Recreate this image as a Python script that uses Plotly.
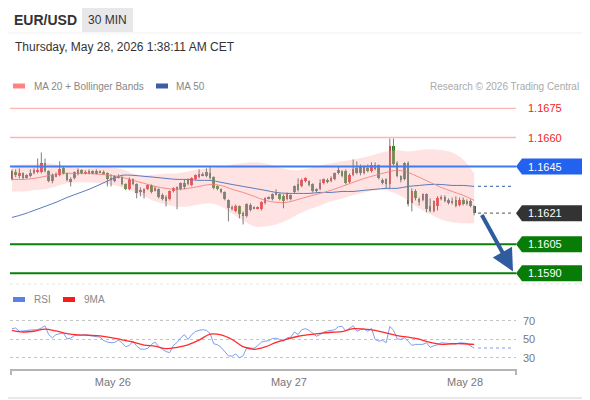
import pandas as pd
import plotly.graph_objects as go

# the page adds an 8px body margin, so the figure is 8px smaller than the window
PAGE_OFF = 8
W, H = 590 - PAGE_OFF, 400 - PAGE_OFF
ML, MR, MT, MB = 10 - PAGE_OFF, 74, 95 - PAGE_OFF, 30
FONT = "Liberation Sans, Arial, sans-serif"

# 30 minute candles, May 25 10:00 -> May 28 01:00 (centre of each bar)
candle_start = "2026-05-25 10:15"
bar_minutes = 30
study_step = 3

opens = [
    1.16384, 1.16420, 1.16405, 1.16415, 1.16395, 1.16400, 1.16415, 1.16425, 1.16420, 1.16467,
    1.16425, 1.16374, 1.16400, 1.16405, 1.16441, 1.16415, 1.16384, 1.16389, 1.16415, 1.16431,
    1.16415, 1.16415, 1.16425, 1.16415, 1.16425, 1.16420, 1.16415, 1.16384, 1.16374, 1.16400,
    1.16395, 1.16358, 1.16333, 1.16384, 1.16358, 1.16322, 1.16312, 1.16333, 1.16353, 1.16328,
    1.16333, 1.16302, 1.16291, 1.16281, 1.16322, 1.16333, 1.16333, 1.16364, 1.16379, 1.16353,
    1.16384, 1.16395, 1.16405, 1.16400, 1.16415, 1.16395, 1.16348, 1.16333, 1.16317, 1.16276,
    1.16235, 1.16219, 1.16245, 1.16209, 1.16194, 1.16224, 1.16240, 1.16235, 1.16230, 1.16261,
    1.16286, 1.16281, 1.16307, 1.16307, 1.16297, 1.16281, 1.16281, 1.16317, 1.16358, 1.16348,
    1.16374, 1.16374, 1.16358, 1.16322, 1.16333, 1.16364, 1.16379, 1.16374, 1.16384, 1.16415,
    1.16425, 1.16425, 1.16369, 1.16405, 1.16441, 1.16446, 1.16415, 1.16441, 1.16425, 1.16436,
    1.16456, 1.16379, 1.16384, 1.16358, 1.16554, 1.16467, 1.16400, 1.16384, 1.16467, 1.16261,
    1.16322, 1.16281, 1.16276, 1.16307, 1.16245, 1.16219, 1.16245, 1.16286, 1.16291, 1.16276,
    1.16266, 1.16276, 1.16250, 1.16276, 1.16255, 1.16271, 1.16245,
]
highs = [
    1.16436, 1.16436, 1.16441, 1.16420, 1.16410, 1.16436, 1.16441, 1.16492, 1.16523, 1.16492,
    1.16431, 1.16415, 1.16420, 1.16477, 1.16451, 1.16420, 1.16395, 1.16425, 1.16441, 1.16436,
    1.16431, 1.16436, 1.16431, 1.16436, 1.16431, 1.16431, 1.16420, 1.16410, 1.16405, 1.16410,
    1.16400, 1.16364, 1.16395, 1.16389, 1.16364, 1.16343, 1.16338, 1.16358, 1.16358, 1.16348,
    1.16338, 1.16312, 1.16302, 1.16328, 1.16343, 1.16348, 1.16369, 1.16384, 1.16389, 1.16395,
    1.16410, 1.16436, 1.16420, 1.16441, 1.16451, 1.16400, 1.16353, 1.16338, 1.16322, 1.16281,
    1.16250, 1.16255, 1.16250, 1.16219, 1.16261, 1.16261, 1.16245, 1.16245, 1.16271, 1.16291,
    1.16297, 1.16312, 1.16333, 1.16312, 1.16307, 1.16317, 1.16307, 1.16353, 1.16389, 1.16389,
    1.16395, 1.16379, 1.16364, 1.16338, 1.16384, 1.16389, 1.16389, 1.16400, 1.16420, 1.16451,
    1.16431, 1.16436, 1.16415, 1.16487, 1.16477, 1.16461, 1.16456, 1.16461, 1.16472, 1.16472,
    1.16461, 1.16389, 1.16389, 1.16595, 1.16595, 1.16477, 1.16405, 1.16472, 1.16477, 1.16338,
    1.16333, 1.16291, 1.16312, 1.16312, 1.16286, 1.16276, 1.16297, 1.16302, 1.16302, 1.16286,
    1.16291, 1.16297, 1.16291, 1.16291, 1.16281, 1.16281, 1.16250,
]
lows = [
    1.16379, 1.16395, 1.16389, 1.16384, 1.16389, 1.16395, 1.16410, 1.16415, 1.16415, 1.16420,
    1.16369, 1.16364, 1.16395, 1.16400, 1.16410, 1.16374, 1.16348, 1.16384, 1.16405, 1.16410,
    1.16410, 1.16410, 1.16410, 1.16410, 1.16415, 1.16410, 1.16348, 1.16348, 1.16369, 1.16389,
    1.16353, 1.16328, 1.16328, 1.16353, 1.16286, 1.16297, 1.16286, 1.16328, 1.16312, 1.16322,
    1.16286, 1.16276, 1.16245, 1.16276, 1.16317, 1.16230, 1.16328, 1.16333, 1.16353, 1.16348,
    1.16379, 1.16389, 1.16400, 1.16395, 1.16384, 1.16333, 1.16328, 1.16312, 1.16276, 1.16168,
    1.16224, 1.16214, 1.16183, 1.16152, 1.16188, 1.16219, 1.16230, 1.16230, 1.16224, 1.16255,
    1.16281, 1.16276, 1.16302, 1.16276, 1.16235, 1.16276, 1.16276, 1.16312, 1.16322, 1.16343,
    1.16369, 1.16348, 1.16317, 1.16317, 1.16328, 1.16358, 1.16364, 1.16369, 1.16379, 1.16410,
    1.16395, 1.16358, 1.16364, 1.16400, 1.16410, 1.16405, 1.16410, 1.16420, 1.16420, 1.16431,
    1.16384, 1.16358, 1.16338, 1.16338, 1.16456, 1.16395, 1.16369, 1.16379, 1.16245, 1.16219,
    1.16276, 1.16250, 1.16271, 1.16214, 1.16214, 1.16214, 1.16224, 1.16276, 1.16266, 1.16255,
    1.16255, 1.16240, 1.16245, 1.16250, 1.16250, 1.16240, 1.16199,
]
closes = [
    1.16425, 1.16405, 1.16415, 1.16389, 1.16405, 1.16415, 1.16431, 1.16431, 1.16467, 1.16425,
    1.16374, 1.16405, 1.16410, 1.16436, 1.16415, 1.16379, 1.16374, 1.16420, 1.16431, 1.16415,
    1.16420, 1.16425, 1.16415, 1.16425, 1.16420, 1.16415, 1.16384, 1.16389, 1.16400, 1.16395,
    1.16358, 1.16333, 1.16384, 1.16358, 1.16312, 1.16328, 1.16333, 1.16353, 1.16317, 1.16338,
    1.16291, 1.16281, 1.16271, 1.16322, 1.16338, 1.16343, 1.16364, 1.16343, 1.16358, 1.16389,
    1.16405, 1.16410, 1.16410, 1.16420, 1.16389, 1.16338, 1.16333, 1.16317, 1.16281, 1.16235,
    1.16240, 1.16245, 1.16204, 1.16194, 1.16255, 1.16250, 1.16235, 1.16240, 1.16266, 1.16286,
    1.16291, 1.16307, 1.16312, 1.16281, 1.16271, 1.16312, 1.16302, 1.16348, 1.16328, 1.16379,
    1.16389, 1.16353, 1.16322, 1.16333, 1.16364, 1.16384, 1.16374, 1.16389, 1.16415, 1.16431,
    1.16400, 1.16364, 1.16405, 1.16436, 1.16415, 1.16415, 1.16446, 1.16431, 1.16456, 1.16456,
    1.16389, 1.16369, 1.16358, 1.16554, 1.16461, 1.16400, 1.16379, 1.16467, 1.16255, 1.16322,
    1.16286, 1.16266, 1.16307, 1.16230, 1.16219, 1.16271, 1.16286, 1.16291, 1.16271, 1.16261,
    1.16271, 1.16245, 1.16276, 1.16255, 1.16271, 1.16245, 1.16210,
]

ma20 = [
    1.16384, 1.16384, 1.16389, 1.16400, 1.16410, 1.16415, 1.16415, 1.16415, 1.16410, 1.16405,
    1.16395, 1.16379, 1.16364, 1.16348, 1.16338, 1.16333, 1.16338, 1.16348, 1.16358, 1.16353,
    1.16333, 1.16317, 1.16297, 1.16276, 1.16266, 1.16266, 1.16281, 1.16297, 1.16312, 1.16328,
    1.16348, 1.16369, 1.16389, 1.16405, 1.16420, 1.16431, 1.16420, 1.16395, 1.16369, 1.16343,
    1.16322, 1.16302, 1.16276,
]
bb_upper = [
    1.16456, 1.16461, 1.16461, 1.16467, 1.16461, 1.16451, 1.16441, 1.16441, 1.16446, 1.16446,
    1.16436, 1.16415, 1.16405, 1.16410, 1.16415, 1.16415, 1.16425, 1.16436, 1.16441, 1.16451,
    1.16461, 1.16467, 1.16472, 1.16467, 1.16451, 1.16436, 1.16431, 1.16441, 1.16456, 1.16467,
    1.16477, 1.16487, 1.16498, 1.16513, 1.16528, 1.16534, 1.16528, 1.16534, 1.16539, 1.16534,
    1.16523, 1.16487, 1.16415,
]
bb_lower = [
    1.16322, 1.16322, 1.16328, 1.16333, 1.16348, 1.16364, 1.16369, 1.16369, 1.16364, 1.16358,
    1.16343, 1.16322, 1.16297, 1.16271, 1.16255, 1.16245, 1.16245, 1.16255, 1.16261, 1.16245,
    1.16209, 1.16173, 1.16142, 1.16142, 1.16152, 1.16173, 1.16204, 1.16230, 1.16250, 1.16271,
    1.16286, 1.16302, 1.16317, 1.16328, 1.16328, 1.16307, 1.16276, 1.16235, 1.16204, 1.16178,
    1.16163, 1.16158, 1.16158,
]
ma50 = [
    1.16188, 1.16204, 1.16224, 1.16245, 1.16266, 1.16291, 1.16312, 1.16333, 1.16358, 1.16384,
    1.16405, 1.16405, 1.16400, 1.16395, 1.16389, 1.16384, 1.16384, 1.16379, 1.16379, 1.16369,
    1.16358, 1.16348, 1.16338, 1.16328, 1.16317, 1.16312, 1.16312, 1.16312, 1.16317, 1.16317,
    1.16322, 1.16322, 1.16328, 1.16333, 1.16338, 1.16338, 1.16348, 1.16353, 1.16358, 1.16358,
    1.16353, 1.16353, 1.16348,
]

rsi = [
    61.7, 62.4, 58.9, 58.9, 59.6, 60.3, 60.6, 60.6, 62.4, 64.9,
    55.3, 51.8, 55.3, 56.4, 57.1, 50.7, 51.4, 54.2, 54.6, 54.2,
    55.3, 54.2, 53.9, 53.5, 52.5, 48.9, 47.2, 46.5, 46.8, 49.3,
    46.5, 42.2, 43.6, 48.2, 42.9, 39.7, 39.4, 40.4, 44.7, 47.2,
    42.2, 39.4, 36.9, 35.8, 43.6, 46.8, 51.8, 55.3, 50.0, 55.3,
    58.5, 59.9, 60.6, 59.9, 56.4, 45.4, 44.3, 41.5, 36.5, 32.3,
    31.9, 34.4, 30.2, 32.3, 41.2, 40.8, 40.4, 43.3, 47.2, 48.2,
    48.6, 51.1, 51.4, 50.0, 48.2, 51.8, 52.5, 58.1, 55.3, 60.6,
    61.7, 59.9, 57.1, 53.5, 55.3, 58.1, 59.2, 59.9, 60.6, 63.8,
    64.2, 59.2, 61.7, 64.9, 58.9, 60.6, 61.3, 58.9, 62.0, 50.0,
    48.2, 49.3, 46.5, 64.2, 59.9, 50.7, 50.0, 51.8, 48.2, 43.6,
    44.7, 44.7, 44.7, 46.5, 41.5, 43.3, 44.3, 46.5, 46.1, 45.4,
    45.0, 45.0, 46.5, 46.1, 45.8, 42.9, 40.8,
]
rsi_ma9 = [
    59.9, 58.1, 58.9, 61.3, 59.2, 56.4, 55.0, 54.6, 53.9, 52.1,
    49.6, 47.2, 44.0, 42.9, 40.1, 41.5, 44.3, 49.3, 55.7, 55.0,
    50.0, 42.2, 39.4, 41.9, 46.8, 50.4, 53.5, 55.3, 56.7, 57.8,
    58.5, 61.7, 61.3, 59.9, 57.1, 54.2, 52.5, 50.4, 46.8, 44.7,
    45.4, 45.4, 44.7,
]

day_ticks = ["2026-05-26", "2026-05-27", "2026-05-28"]
day_labels = ["May 26", "May 27", "May 28"]
rsi_ticks = [30, 50, 70]

resistances = [1.1675, 1.1660]
pivot = 1.1645
last_price = 1.1621
supports = [1.1605, 1.1590]
target = 1.1591

x_range = ["2026-05-25 09:58:40", "2026-05-28 06:57"]
price_range = [1.15840, 1.16819]
rsi_range = [17.0, 92.7]


def px_x(p):
    # page pixel -> paper fraction
    return (p - PAGE_OFF - ML) / (W - ML - MR)


def px_y(p):
    return (H - MB - (p - PAGE_OFF)) / (H - MT - MB)


times = pd.date_range(candle_start, periods=len(closes), freq=f"{bar_minutes}min")
study_times = times[::study_step]

fig = go.Figure()

# bollinger band + averages
fig.add_trace(go.Scatter(x=study_times, y=bb_upper, mode="lines",
                         line=dict(width=0, shape="spline"), hoverinfo="skip"))
fig.add_trace(go.Scatter(x=study_times, y=bb_lower, mode="lines", fill="tonexty",
                         fillcolor="rgba(255,185,185,0.42)",
                         line=dict(width=0, shape="spline"), hoverinfo="skip"))
fig.add_trace(go.Scatter(x=study_times, y=ma50, mode="lines",
                         line=dict(color="#5a7bbd", width=1, shape="spline")))
fig.add_trace(go.Scatter(x=study_times, y=ma20, mode="lines",
                         line=dict(color="#f58c8c", width=1, shape="spline")))

# candles: grey wicks, coloured bodies (red = up, green = down)
wick_x, wick_y = [], []
for t, hi, lo in zip(times, highs, lows):
    wick_x += [t, t, None]
    wick_y += [lo, hi, None]
fig.add_trace(go.Scatter(x=wick_x, y=wick_y, mode="lines",
                         line=dict(color="#7d7d7d", width=1), hoverinfo="skip"))

body_base = [min(o, c) for o, c in zip(opens, closes)]
body_size = [max(abs(c - o), 0.00003) for o, c in zip(opens, closes)]
body_color = ["#e5222a" if c >= o else "#2b7a1e" for o, c in zip(opens, closes)]
fig.add_trace(go.Bar(x=times, y=body_size, base=body_base, marker_color=body_color,
                     marker_line_width=0, width=bar_minutes * 60000 * 0.72))

# RSI panel
fig.add_trace(go.Scatter(x=times, y=rsi, mode="lines", xaxis="x2", yaxis="y2",
                         line=dict(color="#7f9ef0", width=1)))
fig.add_trace(go.Scatter(x=study_times, y=rsi_ma9, mode="lines", xaxis="x2", yaxis="y2",
                         line=dict(color="#ff2b2b", width=1.3, shape="spline")))

shapes = []
for lvl in resistances:
    shapes.append(dict(type="line", xref="paper", yref="y", x0=0, x1=1, y0=lvl, y1=lvl,
                       line=dict(color="#ffb4b4", width=1.3)))
shapes.append(dict(type="line", xref="paper", yref="y", x0=0, x1=1, y0=pivot, y1=pivot,
                   line=dict(color="#3f7cf2", width=2)))
for lvl in supports:
    shapes.append(dict(type="line", xref="paper", yref="y", x0=0, x1=1, y0=lvl, y1=lvl,
                       line=dict(color="#0a7f0a", width=2)))
shapes.append(dict(type="line", xref="paper", yref="y", x0=px_x(478), x1=px_x(514),
                   y0=last_price, y1=last_price, line=dict(color="#777", width=1.3, dash="dot")))
shapes.append(dict(type="line", xref="paper", yref="y", x0=px_x(478), x1=px_x(514),
                   y0=ma50[-1], y1=ma50[-1], line=dict(color="#5a7bbd", width=1.3, dash="dot")))
shapes.append(dict(type="line", xref="paper", yref="y2", x0=px_x(478), x1=px_x(514),
                   y0=rsi[-1], y1=rsi[-1], line=dict(color="#a9bff4", width=1.3, dash="dot")))

# price tags on the right
tag_path = "M0,0 L6,8 L70,8 L70,-8 L6,-8 Z"
annotations = []
for lvl, col in [(pivot, "#2262ef"), (last_price, "#333333"),
                 (supports[0], "#077d07"), (supports[1], "#077d07")]:
    shapes.append(dict(type="path", xref="paper", yref="y", xsizemode="pixel",
                       ysizemode="pixel", xanchor=1, yanchor=lvl, path=tag_path,
                       fillcolor=col, line=dict(width=0)))
    annotations.append(dict(x=px_x(526), y=lvl, xref="paper", yref="y", text=f"{lvl:.4f}",
                            showarrow=False, xanchor="left",
                            font=dict(color="white", size=11, family=FONT)))
for lvl in resistances:
    annotations.append(dict(x=px_x(526), y=lvl, xref="paper", yref="y", text=f"{lvl:.4f}",
                            showarrow=False, xanchor="left",
                            font=dict(color="#f51d1d", size=11, family=FONT)))

# projected move arrow
annotations.append(dict(x=px_x(513), y=target, xref="paper", yref="y", ax=-32, ay=-58,
                        text="", showarrow=True, arrowhead=2, arrowsize=1.1,
                        arrowwidth=4, arrowcolor="#2f5c9f"))

# header, legends, frame
shapes += [
    dict(type="rect", xref="paper", yref="paper", x0=px_x(82), x1=px_x(133),
         y0=px_y(32), y1=px_y(7), fillcolor="#e8e8eb", line=dict(width=0), layer="below"),
    dict(type="line", xref="paper", yref="paper", x0=px_x(8), x1=px_x(590),
         y0=px_y(33), y1=px_y(33), line=dict(color="#efefef", width=1)),
    dict(type="line", xref="paper", yref="paper", x0=px_x(589), x1=px_x(589),
         y0=px_y(398), y1=px_y(8), line=dict(color="#e2e2e2", width=1.5)),
    dict(type="line", xref="paper", yref="paper", x0=px_x(8), x1=px_x(590),
         y0=px_y(398), y1=px_y(398), line=dict(color="#e2e2e2", width=1.5)),
    dict(type="line", xref="paper", yref="paper", x0=px_x(10), x1=px_x(586),
         y0=px_y(284), y1=px_y(284), line=dict(color="#e6e6e6", width=1, dash="dot")),
    dict(type="path", xref="paper", yref="paper",
         path=f"M{px_x(11)},{px_y(375)} L{px_x(11)},{px_y(370)} "
              f"L{px_x(516)},{px_y(370)} L{px_x(516)},{px_y(375)}",
         line=dict(color="#b5b5b5", width=2)),
]
for x0, col, ypos in [(13, "#ff8282", 86), (156, "#3b5ea6", 86),
                      (13, "#5b80e6", 299.5), (63, "#ff1a1a", 299.5)]:
    shapes.append(dict(type="rect", xref="paper", yref="paper", x0=px_x(x0), x1=px_x(x0 + 12),
                       y0=px_y(ypos + 2.5), y1=px_y(ypos - 2.5), fillcolor=col,
                       line=dict(width=0)))

texts = [
    ("<b>EUR/USD</b>", 12, 20, "left", 14, "#333333"),
    ("30 MIN", 107.5, 20, "center", 12, "#333333"),
    ("Thursday, May 28, 2026 1:38:11 AM CET", 13, 47, "left", 12, "#333333"),
    ("MA 20 + Bollinger Bands", 32, 86, "left", 10, "#888888"),
    ("MA 50", 174, 86, "left", 10, "#888888"),
    ("Research © 2026 Trading Central", 581, 86, "right", 10, "#aaaaaa"),
    ("RSI", 32, 299.5, "left", 10, "#888888"),
    ("9MA", 82, 299.5, "left", 10, "#888888"),
]
for txt, x, y, anchor, size, col in texts:
    annotations.append(dict(x=px_x(x), y=px_y(y), xref="paper", yref="paper", text=txt,
                            showarrow=False, xanchor=anchor, yanchor="middle",
                            font=dict(size=size, color=col, family=FONT)))

fig.update_layout(
    width=W, height=H, autosize=False,
    margin=dict(l=ML, r=MR, t=MT, b=MB),
    paper_bgcolor="white", plot_bgcolor="white",
    showlegend=False, hovermode=False, bargap=0,
    font=dict(family=FONT, color="#777777"),
    xaxis=dict(domain=[0, 1], range=x_range, type="date", anchor="y",
               showticklabels=False, showgrid=False, zeroline=False, showline=False),
    yaxis=dict(domain=[px_y(285), 1], range=price_range, visible=False),
    xaxis2=dict(domain=[0, 1], range=x_range, type="date", anchor="y2", matches="x",
                tickvals=day_ticks, ticktext=day_labels, ticks="", showgrid=False,
                zeroline=False, showline=False, ticklabelstandoff=4,
                tickfont=dict(size=11, color="#777777")),
    yaxis2=dict(domain=[0, px_y(300)], range=rsi_range, side="right", tickvals=rsi_ticks,
                ticks="", showgrid=True, griddash="dot", gridcolor="#c4c4c4", gridwidth=1,
                zeroline=False, showline=False, ticklabelstandoff=6,
                tickfont=dict(size=11, color="#777777")),
    shapes=shapes,
    annotations=annotations,
)

fig.write_html("out.html")
